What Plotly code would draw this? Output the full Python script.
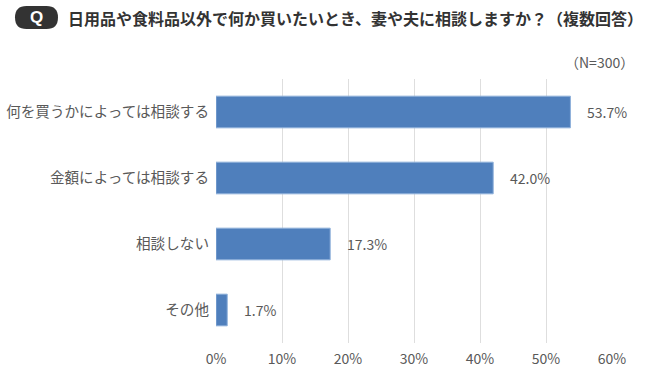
import plotly.graph_objects as go

categories = ["何を買うかによっては相談する", "金額によっては相談する", "相談しない", "その他"]
values = [53.7, 42.0, 17.3, 1.7]
labels = ["53.7%", "42.0%", "17.3%", "1.7%"]
tick_vals = [0, 10, 20, 30, 40, 50, 60]
tick_text = ["0%", "10%", "20%", "30%", "40%", "50%", "60%"]
title = "日用品や食料品以外で何か買いたいとき、妻や夫に相談しますか？（複数回答）"
note = "（N=300）"

W, H = 650, 377
ml, mr, mt, mb = 216, 38, 79, 34
pw, ph = W - ml - mr, H - mt - mb

def px(x):
    return (x - ml) / pw

def py(y):
    return 1 - (y - mt) / ph

font = "Noto Sans CJK JP, Meiryo, sans-serif"

fig = go.Figure(go.Bar(
    x=values, y=categories, orientation="h",
    marker=dict(color="#4F7FBC", line=dict(color="#8EB0DA", width=1)),
    width=0.48, hoverinfo="skip",
))

for v, lab, cat in zip(values, labels, categories):
    fig.add_annotation(x=v, y=cat, text=lab, showarrow=False, xanchor="left",
                       yanchor="middle", xshift=15,
                       font=dict(size=14, color="#595959", family=font))

fig.update_layout(
    width=W, height=H,
    margin=dict(l=ml, r=mr, t=mt, b=mb, autoexpand=False),
    plot_bgcolor="white", paper_bgcolor="white",
    showlegend=False,
    font=dict(family=font, color="#595959", size=14),
    xaxis=dict(range=[0, 60], tickvals=tick_vals, ticktext=tick_text,
               showgrid=True, gridcolor="#DEDEDE", gridwidth=1,
               zeroline=False, showline=False, ticks="", automargin=False,
               ticklabelstandoff=6,
               tickfont=dict(size=14, color="#595959"), fixedrange=True),
    yaxis=dict(autorange="reversed", showgrid=False, ticks="", automargin=False,
               tickfont=dict(size=14.6, color="#595959"), ticklabelstandoff=6,
               showline=False, fixedrange=True),
)

# Q pill
L, R, T, B = 15, 58, 6, 29
rr = (B - T) / 2
fig.add_shape(type="path", xref="paper", yref="paper", layer="above",
              path=(f"M {px(L+rr)},{py(T)} L {px(R-rr)},{py(T)} "
                    f"Q {px(R)},{py(T)} {px(R)},{py((T+B)/2)} "
                    f"Q {px(R)},{py(B)} {px(R-rr)},{py(B)} "
                    f"L {px(L+rr)},{py(B)} Q {px(L)},{py(B)} {px(L)},{py((T+B)/2)} "
                    f"Q {px(L)},{py(T)} {px(L+rr)},{py(T)} Z"),
              fillcolor="#333333", line=dict(width=0))
fig.add_annotation(text="<b>Q</b>", xref="paper", yref="paper",
                   x=px(36.5), y=py(17.5), showarrow=False,
                   font=dict(size=17, color="white", family="Arial, sans-serif"),
                   xanchor="center", yanchor="middle")
fig.add_annotation(text="<b>" + title + "</b>", xref="paper", yref="paper",
                   x=px(66), y=py(18), showarrow=False, xanchor="left", yanchor="middle",
                   font=dict(size=16, color="#333333", family=font))
fig.add_annotation(text=note, xref="paper", yref="paper",
                   x=px(636), y=py(62), showarrow=False, xanchor="right", yanchor="middle",
                   font=dict(size=14, color="#595959", family=font))

fig.write_html("out.html", config={"displayModeBar": False},
               post_script="document.body.style.margin='0';")
